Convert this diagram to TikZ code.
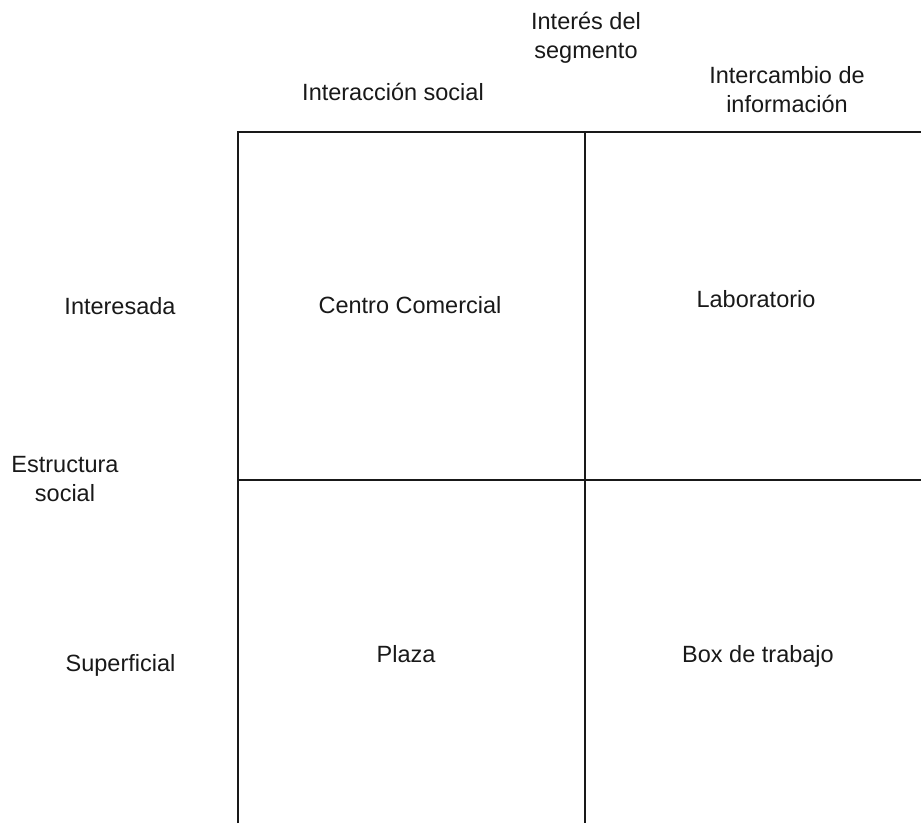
\documentclass[tikz,border=0pt]{standalone}
\usepackage{fontspec}
\setmainfont{Liberation Sans}
\begin{document}
\begin{tikzpicture}[x=1pt,y=-1pt,
  lbl/.style={inner sep=0pt,outer sep=0pt,anchor=base,font=\fontsize{23.5}{29}\selectfont,text=black!90},
  lbl2/.style={lbl,align=center},
  gridline/.style={draw=black!90,line width=2.3pt}]
\useasboundingbox[fill=white] (0,0) rectangle (921,823);
% grid
\coordinate (tl) at (238,132);
\coordinate (tm) at (585,132);
\coordinate (tr) at (921,132);
\coordinate (ml) at (238,480);
\coordinate (mm) at (585,480);
\coordinate (mr) at (921,480);
\coordinate (bl) at (238,823);
\coordinate (bm) at (585,823);
\draw[gridline] (bl) -- (tl) -- (tr);
\draw[gridline] (tm) -- (bm);
\draw[gridline] (ml) -- (mr);
% header labels
\node[lbl2] (seg) at (586,58) {Interés del\\segmento};
\node[lbl] (soc) at (393,100) {Interacción social};
\node[lbl2] (inf) at (787,112) {Intercambio de\\información};
% row labels
\node[lbl] (int) at (120,314) {Interesada};
\node[lbl2] (est) at (65,501) {Estructura\\social};
\node[lbl] (sup) at (120.5,671) {Superficial};
% cells
\node[lbl] (cc) at (410,313) {Centro Comercial};
\node[lbl] (lab) at (756,307) {Laboratorio};
\node[lbl] (pla) at (406,662) {Plaza};
\node[lbl] (box) at (758,662) {Box de trabajo};
\end{tikzpicture}
\end{document}
